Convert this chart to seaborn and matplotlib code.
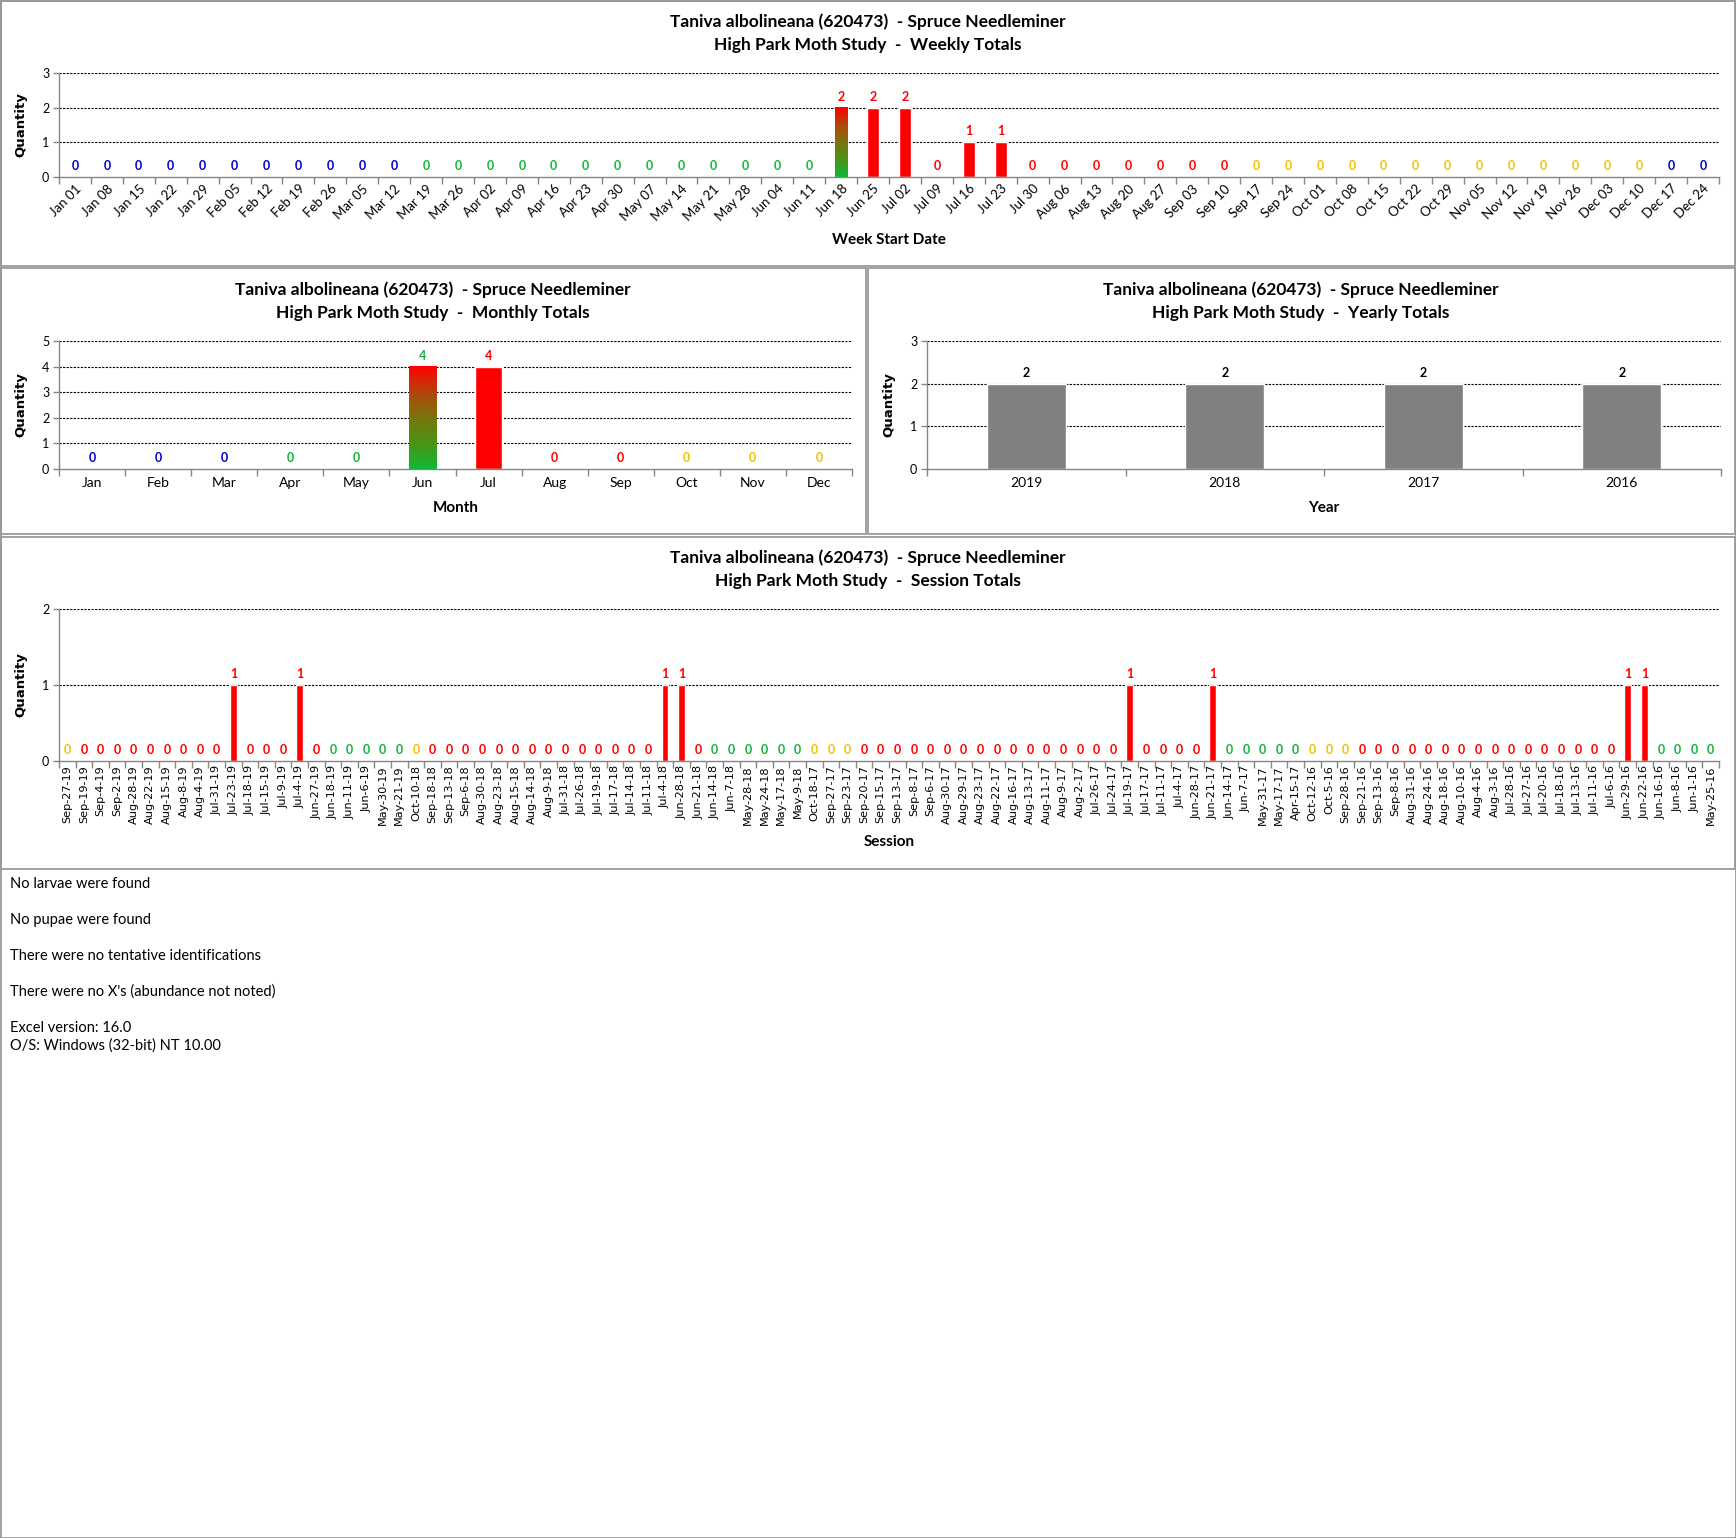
import numpy as np
import seaborn as sns
import matplotlib
matplotlib.use("Agg")
import matplotlib.pyplot as plt
from matplotlib.patches import Rectangle
from matplotlib.colors import LinearSegmentedColormap

# ---- Daten ----
week_labels = ["Jan 01", "Jan 08", "Jan 15", "Jan 22", "Jan 29", "Feb 05", "Feb 12", "Feb 19", "Feb 26",
               "Mar 05", "Mar 12", "Mar 19", "Mar 26", "Apr 02", "Apr 09", "Apr 16", "Apr 23", "Apr 30",
               "May 07", "May 14", "May 21", "May 28", "Jun 04", "Jun 11", "Jun 18", "Jun 25", "Jul 02",
               "Jul 09", "Jul 16", "Jul 23", "Jul 30", "Aug 06", "Aug 13", "Aug 20", "Aug 27", "Sep 03",
               "Sep 10", "Sep 17", "Sep 24", "Oct 01", "Oct 08", "Oct 15", "Oct 22", "Oct 29", "Nov 05",
               "Nov 12", "Nov 19", "Nov 26", "Dec 03", "Dec 10", "Dec 17", "Dec 24"]
week_values = [0, 0, 0, 0, 0, 0, 0, 0, 0, 0, 0, 0, 0, 0, 0, 0, 0, 0, 0, 0, 0, 0, 0, 0, 2, 2,
               2, 0, 1, 1, 0, 0, 0, 0, 0, 0, 0, 0, 0, 0, 0, 0, 0, 0, 0, 0, 0, 0, 0, 0, 0, 0]
week_label_codes = ["b"] * 11 + ["g"] * 13 + ["r"] * 13 + ["y"] * 13 + ["b"] * 2
week_gradient = "Jun 18"

month_labels = ["Jan", "Feb", "Mar", "Apr", "May", "Jun", "Jul", "Aug", "Sep", "Oct", "Nov", "Dec"]
month_values = [0, 0, 0, 0, 0, 4, 4, 0, 0, 0, 0, 0]
month_label_codes = ["b", "b", "b", "g", "g", "g", "r", "r", "r", "y", "y", "y"]
month_gradient = "Jun"

year_labels = ["2019", "2018", "2017", "2016"]
year_values = [2, 2, 2, 2]

session_labels = [
    "Sep-27-19", "Sep-19-19", "Sep-4-19", "Sep-2-19", "Aug-28-19", "Aug-22-19", "Aug-15-19", "Aug-8-19", "Aug-4-19", "Jul-31-19",
    "Jul-23-19", "Jul-18-19", "Jul-15-19", "Jul-9-19", "Jul-4-19", "Jun-27-19", "Jun-18-19", "Jun-11-19", "Jun-6-19", "May-30-19",
    "May-21-19", "Oct-10-18", "Sep-18-18", "Sep-13-18", "Sep-6-18", "Aug-30-18", "Aug-23-18", "Aug-15-18", "Aug-14-18", "Aug-9-18",
    "Jul-31-18", "Jul-26-18", "Jul-19-18", "Jul-17-18", "Jul-14-18", "Jul-11-18", "Jul-4-18", "Jun-28-18", "Jun-21-18", "Jun-14-18",
    "Jun-7-18", "May-28-18", "May-24-18", "May-17-18", "May-9-18", "Oct-18-17", "Sep-27-17", "Sep-23-17", "Sep-20-17", "Sep-15-17",
    "Sep-13-17", "Sep-8-17", "Sep-6-17", "Aug-30-17", "Aug-29-17", "Aug-23-17", "Aug-22-17", "Aug-16-17", "Aug-13-17", "Aug-11-17",
    "Aug-9-17", "Aug-2-17", "Jul-26-17", "Jul-24-17", "Jul-19-17", "Jul-17-17", "Jul-11-17", "Jul-4-17", "Jun-28-17", "Jun-21-17",
    "Jun-14-17", "Jun-7-17", "May-31-17", "May-17-17", "Apr-15-17", "Oct-12-16", "Oct-5-16", "Sep-28-16", "Sep-21-16", "Sep-13-16",
    "Sep-8-16", "Aug-31-16", "Aug-24-16", "Aug-18-16", "Aug-10-16", "Aug-4-16", "Aug-3-16", "Jul-28-16", "Jul-27-16", "Jul-20-16",
    "Jul-18-16", "Jul-13-16", "Jul-11-16", "Jul-6-16", "Jun-29-16", "Jun-22-16", "Jun-16-16", "Jun-8-16", "Jun-1-16", "May-25-16"]
session_values = [
    0, 0, 0, 0, 0, 0, 0, 0, 0, 0,
    1, 0, 0, 0, 1, 0, 0, 0, 0, 0,
    0, 0, 0, 0, 0, 0, 0, 0, 0, 0,
    0, 0, 0, 0, 0, 0, 1, 1, 0, 0,
    0, 0, 0, 0, 0, 0, 0, 0, 0, 0,
    0, 0, 0, 0, 0, 0, 0, 0, 0, 0,
    0, 0, 0, 0, 1, 0, 0, 0, 0, 1,
    0, 0, 0, 0, 0, 0, 0, 0, 0, 0,
    0, 0, 0, 0, 0, 0, 0, 0, 0, 0,
    0, 0, 0, 0, 1, 1, 0, 0, 0, 0]
session_label_codes = (
    "y r r r r r r r r r "
    "r r r r r r g g g g "
    "g y r r r r r r r r "
    "r r r r r r r r r g "
    "g g g g g y y y r r "
    "r r r r r r r r r r "
    "r r r r r r r r r r "
    "g g g g g y y y r r "
    "r r r r r r r r r r "
    "r r r r r r g g g g").split()

notes = ["No larvae were found", "No pupae were found", "There were no tentative identifications",
         "There were no X's (abundance not noted)"]
version_lines = ["Excel version: 16.0", "O/S: Windows (32-bit) NT 10.00"]

title1 = "Taniva albolineana (620473)  - Spruce Needleminer"
subtitles = ["High Park Moth Study  -  Weekly Totals", "High Park Moth Study  -  Monthly Totals",
             "High Park Moth Study  -  Yearly Totals", "High Park Moth Study  -  Session Totals"]

# ---- Stil ----
code_colors = {"b": "#0000CC", "g": "#14B53A", "r": "#FF0000", "y": "#F2C200"}
grad_cmap = LinearSegmentedColormap.from_list(
    "gr", ["#10B93A", "#4A9414", "#7A740C", "#B4440A", "#FF0000"])

sns.set_theme(style="white")
narrow = ["Liberation Sans Narrow", "Lato", "DejaVu Sans"]
plt.rcParams["font.family"] = narrow
for k in ["text.color", "axes.labelcolor", "xtick.color", "ytick.color"]:
    plt.rcParams[k] = "black"

W, H = 1736, 1538
fig = plt.figure(figsize=(W / 100, H / 100), dpi=100)
fig.patch.set_facecolor("white")


def px_rect(l, t, r, b):
    return [l / W, 1 - b / H, (r - l) / W, (b - t) / H]


def box(l, t, r, b):
    fig.add_artist(Rectangle((l / W, 1 - b / H), (r - l) / W, (b - t) / H, transform=fig.transFigure,
                             fill=False, ec="#9A9A9A", lw=1.3))


def bar_panel(l, t, r, b, labels, values, bar_colors, lab_colors, ymax, width,
              xlabel, xlabel_gap, gradient=None):
    ax = fig.add_axes(px_rect(l, t, r, b))
    n = len(labels)
    sns.barplot(x=labels, y=values, hue=labels, hue_order=labels, order=labels,
                palette=bar_colors, saturation=1, width=width, legend=False, ax=ax, zorder=2)
    if gradient is not None:
        i = labels.index(gradient)
        p = ax.patches[i]
        p.set_facecolor("none")
        p.set_edgecolor("none")
        grad = np.linspace(0, 1, 256).reshape(-1, 1)
        ax.imshow(grad, extent=[p.get_x(), p.get_x() + p.get_width(), 0, p.get_height()],
                  origin="lower", cmap=grad_cmap, aspect="auto", zorder=3)
    for i, v in enumerate(values):
        ax.annotate(str(v), (i, v), xytext=(0, 3.5), textcoords="offset points", ha="center",
                    va="bottom", color=lab_colors[i], fontsize=9, fontweight="bold")
    ax.set_xlim(-0.5, n - 0.5)
    ax.set_ylim(0, ymax)
    ax.set_yticks(range(ymax + 1))
    ax.set_xticks(np.arange(-0.5, n), minor=True)
    ax.grid(False)
    for y in range(1, ymax + 1):
        ax.axhline(y, color="black", ls=(0, (2.0, 1.2)), lw=0.8, zorder=1)
    for s in ["top", "right"]:
        ax.spines[s].set_visible(False)
    for s in ["left", "bottom"]:
        ax.spines[s].set_color("#868686")
        ax.spines[s].set_linewidth(1.0)
    ax.tick_params(axis="x", which="major", bottom=False, length=0, pad=4)
    ax.tick_params(axis="x", which="minor", bottom=True, length=5, color="#868686", width=1)
    ax.tick_params(axis="y", left=True, length=4, color="#868686", width=1, labelsize=9, pad=3)
    ax.set_ylabel("Quantity", fontsize=9.5, fontweight="bold", family="DejaVu Sans")
    ax.yaxis.set_label_coords(-32 / (r - l), 0.5)
    ax.set_xlabel(xlabel, fontsize=11, fontweight="bold")
    ax.xaxis.set_label_coords(0.5, -xlabel_gap / (b - t))
    ax.xaxis.label.set_va("center")
    ax.set_facecolor("white")
    return ax


def titles(cx, y1, sub):
    fig.text(cx / W, 1 - y1 / H, title1, ha="center", va="center", fontsize=12.5, fontweight="bold")
    fig.text(cx / W, 1 - (y1 + 23) / H, sub, ha="center", va="center", fontsize=12.5, fontweight="bold")


# Rahmen
box(1, 1, 1735, 266)
box(1, 268, 866, 534)
box(868, 268, 1735, 534)
box(1, 537, 1735, 869)
box(0.5, 0.5, 1735.5, 1537.5)

# 1. Wochen
week_bar_colors = ["#FF0000"] * len(week_labels)
ax1 = bar_panel(59, 73, 1719, 177, week_labels, week_values, week_bar_colors,
                [code_colors[c] for c in week_label_codes], 3, 0.38,
                "Week Start Date", 63, gradient=week_gradient)
ax1.set_xticks(range(len(week_labels)))
ax1.set_xticklabels(week_labels, rotation=45, ha="right", rotation_mode="anchor", fontsize=9.5)
titles(868, 22, subtitles[0])

# 2. Monate
month_bar_colors = ["#FF0000"] * len(month_labels)
ax2 = bar_panel(59, 341, 852, 469, month_labels, month_values, month_bar_colors,
                [code_colors[c] for c in month_label_codes], 5, 0.41,
                "Month", 39, gradient=month_gradient)
ax2.tick_params(axis="x", labelsize=10, pad=6)
titles(433, 290, subtitles[1])

# 3. Jahre
ax3 = bar_panel(927, 341, 1721, 469, year_labels, year_values, ["#808080"] * 4,
                ["black"] * 4, 3, 0.4, "Year", 39)
ax3.tick_params(axis="x", labelsize=10, pad=6)
titles(1301, 290, subtitles[2])

# 4. Sessions
ax4 = bar_panel(59, 609, 1719, 761, session_labels, session_values, ["#FF0000"] * len(session_labels),
                [code_colors[c] for c in session_label_codes], 2, 0.4, "Session", 81)
ax4.set_xticks(range(len(session_labels)))
ax4.set_xticklabels(session_labels, rotation=90, ha="center", va="top", fontsize=8.1,
                    family="DejaVu Sans")
ax4.tick_params(axis="x", which="major", pad=3)
titles(868, 558, subtitles[3])

# Text unten
for i, line in enumerate(notes):
    fig.text(10 / W, 1 - (884 + 36 * i) / H, line, ha="left", va="center", fontsize=10.5)
for i, line in enumerate(version_lines):
    fig.text(10 / W, 1 - (1028 + 18 * i) / H, line, ha="left", va="center", fontsize=10.5)

fig.savefig("out.png", dpi=100, facecolor="white")
